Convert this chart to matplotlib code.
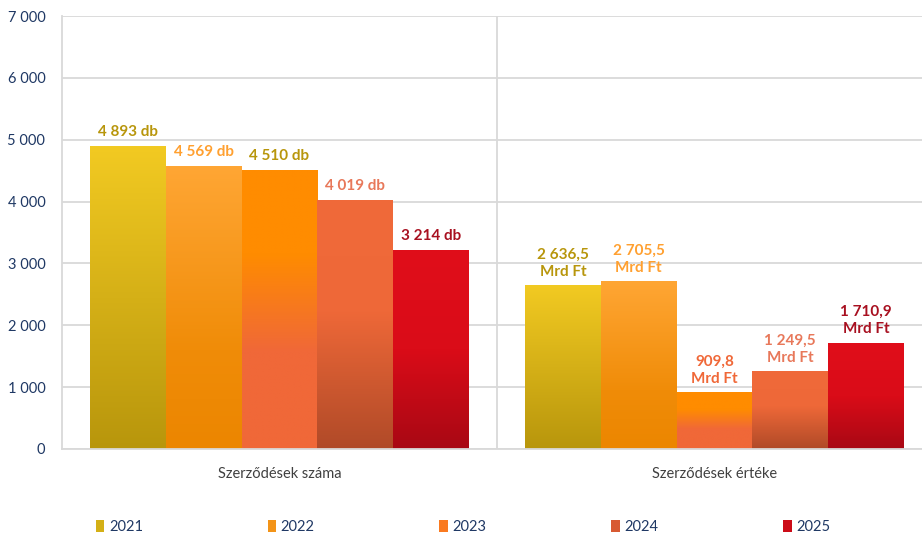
import numpy as np
import matplotlib
matplotlib.use("Agg")
import matplotlib.pyplot as plt
from matplotlib.colors import LinearSegmentedColormap
from matplotlib.patches import Patch

plt.rcParams['font.family'] = ['Lato', 'DejaVu Sans']

categories = ['Szerződések száma', 'Szerződések értéke']
years = ['2021', '2022', '2023', '2024', '2025']
vals_2021 = [4893, 2636.5]
vals_2022 = [4569, 2705.5]
vals_2023 = [4510, 909.8]
vals_2024 = [4019, 1249.5]
vals_2025 = [3214, 1710.9]
series = [vals_2021, vals_2022, vals_2023, vals_2024, vals_2025]

# gradient stops, bottom -> top
grad_stops = [
    [(0.0, '#B8960C'), (1.0, '#F2CA22')],
    [(0.0, '#EC8600'), (0.35, '#F08C08'), (1.0, '#FFA634')],
    [(0.0, '#F06838'), (0.35, '#F06838'), (0.7, '#FF8C00'), (1.0, '#FF8C00')],
    [(0.0, '#B04A28'), (0.55, '#EE6838'), (1.0, '#F06A3A')],
    [(0.0, '#A80814'), (0.5, '#DA0C18'), (1.0, '#E00E1A')],
]
legend_colors = ['#D4B016', '#F39418', '#FA7A20', '#D85A32', '#CC0C18']
# label colours per series: [count label, value label]
label_colors = [['#B8960C', '#B8960C'], ['#FFA030', '#FFA030'], ['#B8960C', '#F06838'],
                ['#E8785A', '#E8785A'], ['#A81020', '#A81020']]


def fmt_num(v, dec):
    if dec:
        s = f"{v:,.1f}".replace(',', ' ').replace('.', ',')
    else:
        s = f"{v:,.0f}".replace(',', ' ')
    return s


fig = plt.figure(figsize=(9.22, 5.38), dpi=100)
ax = fig.add_axes([62/922, 1-449/538, 870/922, 433/538])

x = np.arange(len(categories))
width = 0.174
grad = np.linspace(0, 1, 256).reshape(-1, 1)

for i, vals in enumerate(series):
    cmap = LinearSegmentedColormap.from_list('g%d' % i, grad_stops[i])
    bars = ax.bar(x + (i - 2) * width, vals, width, color='none', edgecolor='none')
    for j, b in enumerate(bars):
        x0, h = b.get_x(), b.get_height()
        ax.imshow(grad, extent=[x0, x0 + width, 0, h], cmap=cmap,
                  aspect='auto', origin='lower', interpolation='bilinear', zorder=2)
        if j == 0:
            txt = fmt_num(vals[j], False) + ' db'
        else:
            txt = fmt_num(vals[j], True) + '\nMrd Ft'
        ax.annotate(txt, (x0 + width / 2, h), xytext=(0, 5), textcoords='offset points',
                    ha='center', va='bottom', fontsize=11, fontweight='bold',
                    color=label_colors[i][j], linespacing=1.3, zorder=3)

ax.set_xlim(-0.5, 1.5)
ax.set_ylim(0, 7000)
ax.set_yticks(np.arange(0, 7001, 1000))
ax.set_yticklabels([fmt_num(v, False) for v in np.arange(0, 7001, 1000)],
                   color='#1F3864', fontsize=10.5)
ax.set_xticks(x)
ax.set_xticklabels(categories, color='#404040', fontsize=10.5)
ax.tick_params(axis='y', length=0, pad=12)
ax.tick_params(axis='x', length=0, pad=13)
ax.yaxis.grid(True, color='#D9D9D9', linewidth=1.3, zorder=0)
ax.set_axisbelow(True)
ax.axvline(0.5, color='#D9D9D9', linewidth=1.3, zorder=1)
for s in ['top', 'right']:
    ax.spines[s].set_visible(False)
ax.spines['left'].set_color('#D9D9D9')
ax.spines['bottom'].set_color('#D9D9D9')
ax.spines['left'].set_linewidth(1.3)
ax.spines['bottom'].set_linewidth(1.3)

handles = [Patch(facecolor=c, edgecolor='none') for c in legend_colors]
leg = fig.legend(handles, years, loc='center', bbox_to_anchor=(463/922, 1-527/538),
                 ncol=5, frameon=False, fontsize=10.5, handlelength=0.6, handleheight=0.8,
                 handletextpad=0.3, columnspacing=8.55)
for t in leg.get_texts():
    t.set_color('#1F3864')

fig.savefig('out.png', dpi=100)
